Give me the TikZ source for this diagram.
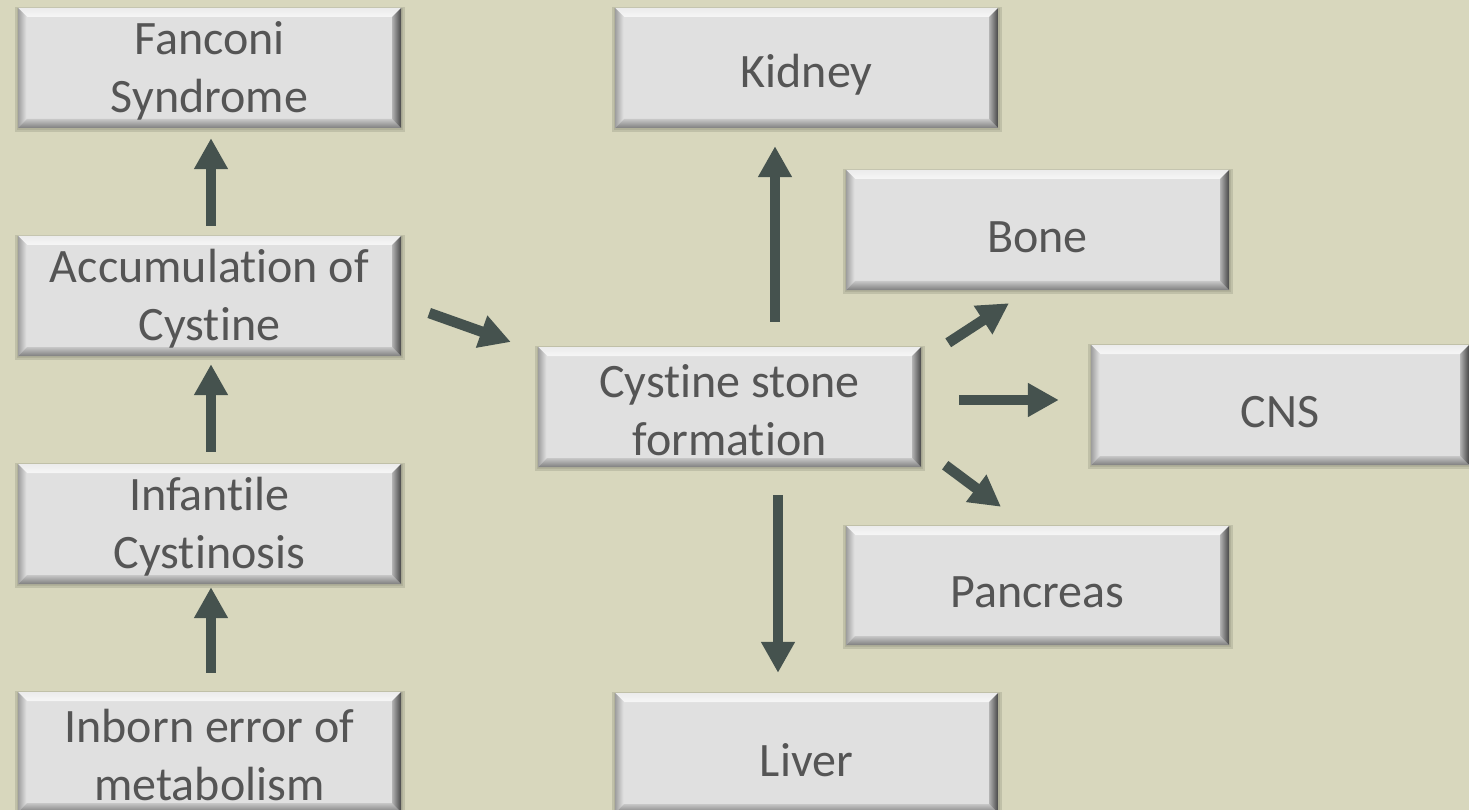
\documentclass[tikz,border=0pt]{standalone}
\usepackage{fontspec}
\setmainfont{Carlito}[Ligatures={NoCommon}]
\usetikzlibrary{arrows.meta,calc}
\definecolor{bgc}{RGB}{216,215,189}
\definecolor{arrowc}{RGB}{69,82,78}
\definecolor{facec}{RGB}{224,224,224}
\definecolor{textc}{RGB}{85,85,85}
\definecolor{shadc}{RGB}{150,150,130}
\newcommand\bw{9}
\newcommand\bevbox[7][-3pt]{%
  \fill[shadc,opacity=0.35] (#3-3,#4-1) rectangle (#5+4,#6+4);
  \fill[shadc,opacity=0.35] (#3-1.5,#4) rectangle (#5+2,#6+2);
  \fill[facec] (#3,#4) rectangle (#5,#6);
  \shade[top color=white!85!gray, bottom color=white!93!gray]
    (#3,#4) -- (#5,#4) -- (#5-\bw,#4+\bw) -- (#3+\bw,#4+\bw) -- cycle;
  \shade[left color=black!38, right color=black!10]
    (#3,#4) -- (#3+\bw,#4+\bw) -- (#3+\bw,#6-\bw) -- (#3,#6) -- cycle;
  \shade[top color=black!22, bottom color=black!50]
    (#3,#6) -- (#3+\bw,#6-\bw) -- (#5-\bw,#6-\bw) -- (#5,#6) -- cycle;
  \shade[left color=black!30, right color=black!72]
    (#5,#4) -- (#5,#6) -- (#5-\bw,#6-\bw) -- (#5-\bw,#4+\bw) -- cycle;
  \node[inner sep=0pt, minimum width={(#5-#3)*1pt}, minimum height={(#6-#4)*1pt},
    label={[boxtext,yshift=#1]center:#7}]
    (#2) at ({(#3+#5)/2},{(#4+#6)/2}) {};
}
\begin{document}
\begin{tikzpicture}[x=1pt,y=-1pt,
  boxtext/.style={inner sep=0pt, align=center, text=textc,
    font=\fontsize{48}{58}\selectfont},
  arr/.style={draw=arrowc, line width=10.5pt,
    -{Triangle[length=31pt,width=32pt]}}]
\fill[bgc] (0,0) rectangle (1469,810);
\useasboundingbox (0,0) rectangle (1469,810);
\clip (0,0) rectangle (1469,810);
\bevbox{fan}{18}{8}{401}{128}{Fanconi\\Syndrome}
\bevbox{acc}{18}{236}{401}{356}{Accumulation of\\Cystine}
\bevbox{inf}{18}{464}{401}{584}{Infantile\\Cystinosis}
\bevbox{inb}{18}{692}{401}{812}{Inborn error of\\metabolism}
\bevbox[-7pt]{kid}{615}{8}{998}{128}{Kidney}
\bevbox[-7pt]{bone}{846}{170}{1229}{290}{Bone}
\bevbox{cys}{538}{347}{921}{467}{Cystine stone\\formation}
\bevbox[-7pt]{cns}{1091}{345}{1469}{465}{CNS}
\bevbox[-7pt]{panc}{846}{526}{1229}{645}{Pancreas}
\bevbox[-7pt]{liv}{615}{693}{998}{813}{Liver}
% left column
\draw[arr] ($(acc.north)+(1.5,-10)$) -- ($(fan.south)+(1.5,10)$);
\draw[arr] ($(inf.north)+(1.5,-12)$) -- ($(acc.south)+(1.5,8)$);
\draw[arr] ($(inb.north)+(1.5,-19)$) -- ($(inf.south)+(1.5,3)$);
\draw[arr] ($(acc.east)+(28,17)$) -- ($(cys.west)+(-27,-65)$);
% from cystine stone formation
\draw[arr] ($(cys.north)+(45.5,-25)$) -- ($(kid.south)+(-31.5,18)$);
\draw[arr] ($(cys.north east)+(27,-4)$) -- ($(bone.south)+(-28.5,13)$);
\draw[arr] ($(cys.east)+(38,-7)$) -- ($(cns.west)+(-32,-5)$);
\draw[arr] ($(cys.south east)+(24,-2)$) -- ($(panc.north)+(-36.5,-19)$);
\draw[arr] ($(cys.south)+(48.5,28)$) -- ($(liv.north)+(-28.5,-20)$);
\end{tikzpicture}
\end{document}
